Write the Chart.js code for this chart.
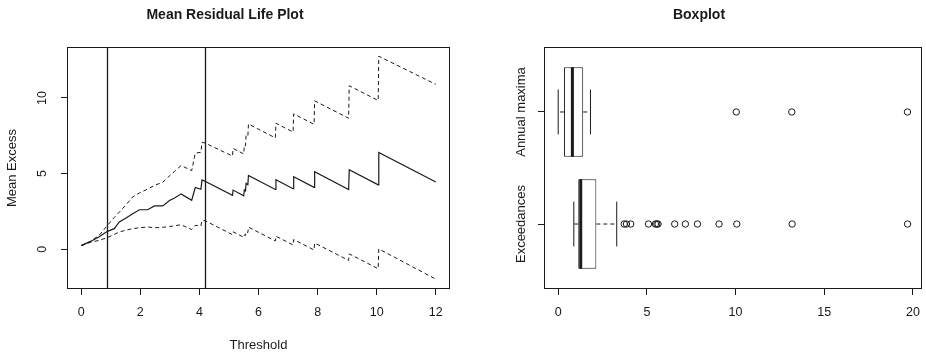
<!DOCTYPE html>
<html>
<head>
<meta charset="utf-8">
<script src="https://cdn.jsdelivr.net/npm/chart.js@4.4.0/dist/chart.umd.min.js"></script>
<style>
  html, body { margin: 0; padding: 0; width: 926px; height: 355px; overflow: hidden; background: #fff; }
  #left { position: absolute; left: 0; top: 0; width: 470px; height: 355px; }
  #right { position: absolute; left: 470px; top: 0; width: 460px; height: 355px; }
</style>
</head>
<body>
<div id="left"><canvas id="mrlChart"></canvas></div>
<div id="right"><canvas id="boxChart"></canvas></div>
<script>
// mean residual life plot
const thresholds = [0, 0.3, 0.61, 0.89, 1.12, 1.29, 1.52, 1.74, 1.97, 2.25, 2.48, 2.76, 2.99,
  3.16, 3.38, 3.74, 3.86, 4.05, 4.09, 4.19, 5.12, 5.14, 5.5, 5.52, 5.56, 5.58, 5.64, 5.66,
  6.57, 6.59, 7.17, 7.19, 7.88, 7.9, 9.05, 9.07, 10.05, 10.07, 12];
const meanExcess = [0.24, 0.5, 0.82, 1.18, 1.36, 1.8, 2.07, 2.35, 2.61, 2.61, 2.86, 2.86, 3.22,
  3.38, 3.66, 3.24, 4.08, 3.96, 4.58, 4.49, 3.56, 3.91, 3.53, 3.92, 3.86, 4.35, 4.27, 4.88,
  3.95, 4.6, 4.0, 4.8, 4.09, 5.12, 3.95, 5.26, 4.26, 6.4, 4.45];
const upperCI = [0.24, 0.5, 0.92, 1.58, 2.1, 2.45, 2.95, 3.45, 3.72, 3.98, 4.22, 4.43, 4.85,
  5.15, 5.53, 5.2, 6.35, 6.41, 7.08, 7.02, 6.16, 6.66, 6.3, 6.88, 6.83, 7.52, 7.46, 8.28,
  7.36, 8.33, 7.75, 8.95, 8.26, 9.81, 8.66, 10.81, 9.83, 12.76, 10.9];
const lowerCI = [0.24, 0.45, 0.59, 0.77, 0.98, 1.14, 1.26, 1.36, 1.42, 1.47, 1.42, 1.45, 1.5,
  1.55, 1.62, 1.3, 1.58, 1.54, 1.9, 1.89, 0.96, 1.15, 0.79, 0.95, 0.91, 1.16, 1.1, 1.46,
  0.55, 0.86, 0.28, 0.64, -0.05, 0.41, -0.74, -0.31, -1.29, 0.02, -1.98];
const chosenThresholds = [0.88, 4.19];
const mrlXTicks = [0, 2, 4, 6, 8, 10, 12];
const mrlYTicks = [0, 5, 10];

// boxplot
const groups = ["Exceedances", "Annual maxima"];
const boxQ1 = [1.13, 0.33];
const boxMedian = [1.27, 0.8];
const boxQ3 = [2.15, 1.41];
const whiskerLow = [0.88, 0.0];
const whiskerHigh = [3.3, 1.82];
const exceedanceOutliers = [3.72, 3.85, 4.09, 5.09, 5.48, 5.56, 5.63, 6.57, 7.17, 7.85, 9.07, 10.07, 13.19, 19.7];
const annualOutliers = [10.04, 13.17, 19.69];
const boxXTicks = [0, 5, 10, 15, 20];

const INK = "#1a1a1a";
const FONT = "'Liberation Sans', Arial, sans-serif";

const framePlugin = {
  id: "frame",
  afterDatasetsDraw(chart, args, opts) {
    const { ctx, chartArea: a, scales } = chart;
    ctx.save();
    ctx.strokeStyle = INK;
    ctx.lineWidth = 1;
    ctx.strokeRect(Math.round(a.left) + 0.5, Math.round(a.top) + 0.5,
      Math.round(a.width) - 1, Math.round(a.height) - 1);
    (opts.vlines || []).forEach(function (v) {
      const px = Math.round(scales.x.getPixelForValue(v)) + 0.5;
      ctx.lineWidth = 1.3;
      ctx.beginPath();
      ctx.moveTo(px, a.top);
      ctx.lineTo(px, a.bottom);
      ctx.stroke();
    });
    ctx.restore();
  },
};

function fixedTicks(values) {
  return function (scale) {
    scale.ticks = values.map(function (v) { return { value: v }; });
  };
}

function axisGrid() {
  return { drawOnChartArea: false, drawTicks: true, tickLength: 6, color: INK, lineWidth: 1, offset: false };
}

// left chart
const pts = function (ys) {
  return thresholds.map(function (t, i) { return { x: t, y: ys[i] }; });
};

new Chart(document.getElementById("mrlChart"), {
  type: "scatter",
  data: {
    datasets: [
      { data: pts(meanExcess), showLine: true, borderColor: INK, borderWidth: 1.2, pointRadius: 0 },
      { data: pts(upperCI), showLine: true, borderColor: INK, borderWidth: 1, borderDash: [4, 3], pointRadius: 0 },
      { data: pts(lowerCI), showLine: true, borderColor: INK, borderWidth: 1, borderDash: [4, 3], pointRadius: 0 },
    ],
  },
  options: {
    responsive: true,
    maintainAspectRatio: false,
    animation: false,
    devicePixelRatio: 1,
    layout: { padding: { right: 20 } },
    plugins: {
      legend: { display: false },
      tooltip: { enabled: false },
      title: {
        display: true,
        text: "Mean Residual Life Plot",
        color: INK,
        font: { family: FONT, size: 14, weight: "bold" },
        padding: { top: 6.6, bottom: 23.6 },
      },
      frame: { vlines: chosenThresholds },
    },
    scales: {
      x: {
        type: "linear",
        min: -0.48,
        max: 12.48,
        afterBuildTicks: fixedTicks(mrlXTicks),
        afterFit: function (s) { s.height = 66; },
        grid: axisGrid(),
        border: { display: false },
        ticks: { color: INK, font: { family: FONT, size: 12.5 }, padding: 10, maxRotation: 0 },
        title: { display: true, text: "Threshold", color: INK, font: { family: FONT, size: 13 }, padding: { top: 0, bottom: 2 } },
      },
      y: {
        type: "linear",
        min: -2.63,
        max: 13.37,
        afterBuildTicks: fixedTicks(mrlYTicks),
        afterFit: function (s) { s.width = 67; },
        grid: axisGrid(),
        border: { display: false },
        ticks: { color: INK, font: { family: FONT, size: 12.5 }, minRotation: 90, maxRotation: 90, crossAlign: "center", padding: 12 },
        title: { display: true, text: "Mean Excess", color: INK, font: { family: FONT, size: 13 }, padding: { top: 5, bottom: 0 } },
      },
    },
  },
  plugins: [framePlugin],
});

// right chart
const positions = groups.map(function (g, i) { return i + 1; });
const BOX_HALF = 0.4;
const CAP_HALF = 0.2;

function segments(list) {
  const out = [];
  list.forEach(function (seg) {
    out.push(seg[0], seg[1], { x: seg[1].x, y: null });
  });
  return out;
}

const medianSegs = segments(positions.map(function (p, i) {
  return [{ x: boxMedian[i], y: p - BOX_HALF }, { x: boxMedian[i], y: p + BOX_HALF }];
}));
const whiskerSegs = segments(positions.flatMap(function (p, i) {
  return [[{ x: boxQ1[i], y: p }, { x: whiskerLow[i], y: p }], [{ x: boxQ3[i], y: p }, { x: whiskerHigh[i], y: p }]];
}));
const capSegs = segments(positions.flatMap(function (p, i) {
  return [[{ x: whiskerLow[i], y: p - CAP_HALF }, { x: whiskerLow[i], y: p + CAP_HALF }],
          [{ x: whiskerHigh[i], y: p - CAP_HALF }, { x: whiskerHigh[i], y: p + CAP_HALF }]];
}));
const outlierPts = exceedanceOutliers.map(function (v) { return { x: v, y: positions[0] }; })
  .concat(annualOutliers.map(function (v) { return { x: v, y: positions[1] }; }));

new Chart(document.getElementById("boxChart"), {
  type: "scatter",
  data: {
    datasets: [
      { data: medianSegs, showLine: true, borderColor: INK, borderWidth: 3, pointRadius: 0, order: 1 },
      { data: capSegs, showLine: true, borderColor: INK, borderWidth: 1, pointRadius: 0, order: 1 },
      { data: whiskerSegs, showLine: true, borderColor: INK, borderWidth: 1, borderDash: [4, 3], pointRadius: 0, order: 1 },
      {
        data: outlierPts, showLine: false, pointStyle: "circle", pointRadius: 3.2,
        pointBackgroundColor: "rgba(0,0,0,0)", pointBorderColor: INK, pointBorderWidth: 1, order: 1,
      },
      {
        type: "bar",
        indexAxis: "y",
        data: positions.map(function (p, i) { return { x: [boxQ1[i], boxQ3[i]], y: p }; }),
        backgroundColor: "#fff",
        borderColor: INK,
        borderWidth: 1,
        borderSkipped: false,
        categoryPercentage: 1,
        barPercentage: 0.8,
        order: 5,
      },
    ],
  },
  options: {
    responsive: true,
    maintainAspectRatio: false,
    animation: false,
    devicePixelRatio: 1,
    layout: { padding: { right: 2 } },
    plugins: {
      legend: { display: false },
      tooltip: { enabled: false },
      title: {
        display: true,
        text: "Boxplot",
        color: INK,
        font: { family: FONT, size: 14, weight: "bold" },
        padding: { top: 6.6, bottom: 23.6 },
      },
      frame: {},
    },
    scales: {
      x: {
        type: "linear",
        min: -0.8,
        max: 20.5,
        offset: false,
        afterBuildTicks: fixedTicks(boxXTicks),
        afterFit: function (s) { s.height = 66; },
        grid: axisGrid(),
        border: { display: false },
        ticks: { color: INK, font: { family: FONT, size: 12.5 }, padding: 10, maxRotation: 0 },
      },
      y: {
        type: "linear",
        min: 0.42,
        max: 2.58,
        offset: false,
        afterBuildTicks: fixedTicks(positions),
        afterFit: function (s) { s.width = 74; },
        grid: axisGrid(),
        border: { display: false },
        ticks: {
          color: INK, font: { family: FONT, size: 13 }, minRotation: 90, maxRotation: 90,
          crossAlign: "center", padding: -28,
          callback: function (v) { return groups[v - 1]; },
        },
      },
    },
  },
  plugins: [framePlugin],
});
</script>
</body>
</html>
